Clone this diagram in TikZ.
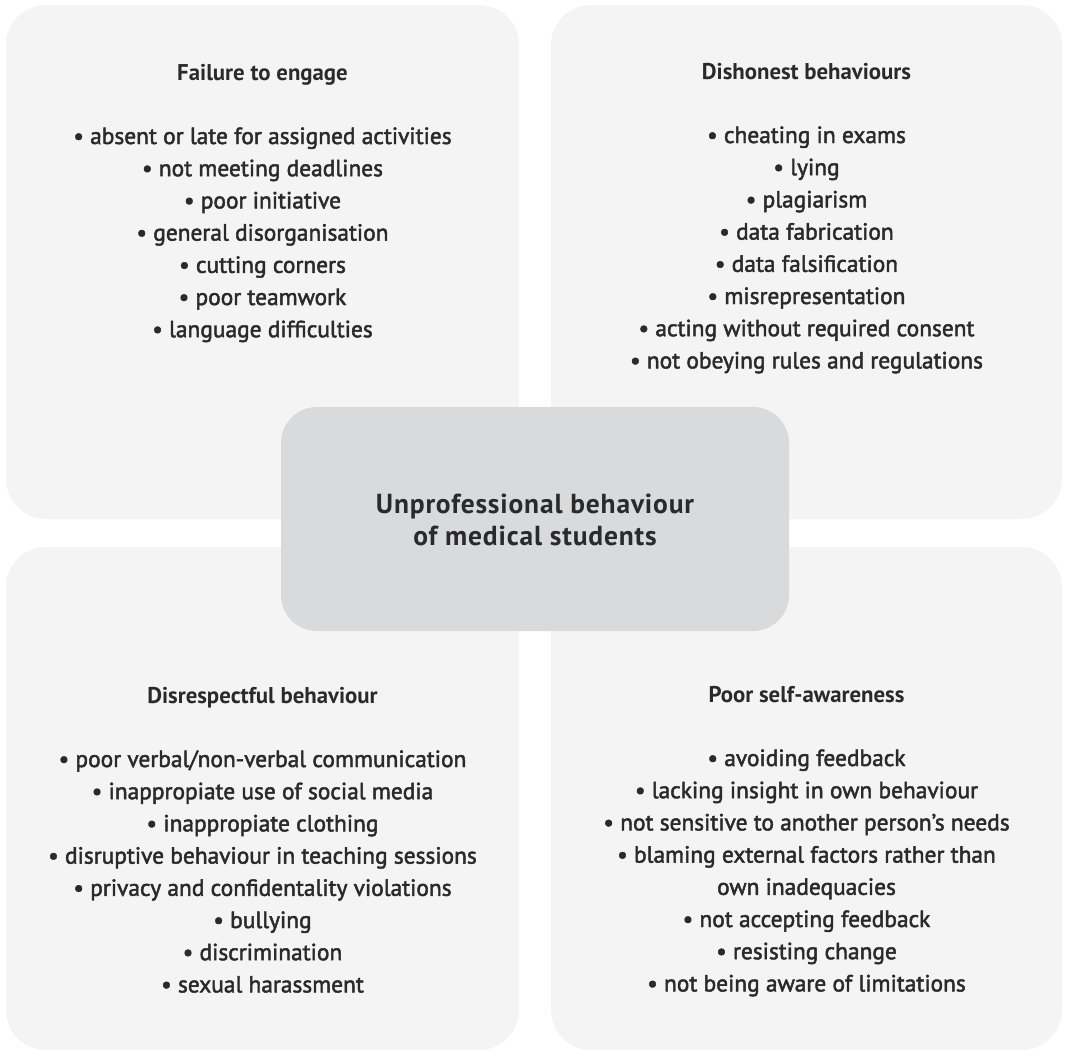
\documentclass[tikz,border=0pt]{standalone}
\usepackage{fontspec}
\setmainfont{PT Sans}
\newfontfamily\itemfont{PT Sans}[FakeBold=2]
\newfontfamily\headfont{PT Sans Bold}
\newfontfamily\hubfont{PT Sans Bold}[LetterSpace=3]
\definecolor{ink}{HTML}{2A2A2B}
\definecolor{panel}{HTML}{F4F4F4}
\definecolor{hub}{HTML}{D9DADC}
\begin{document}
\begin{tikzpicture}[x=1pt,y=-1pt,
  panelbox/.style={fill=panel, draw=none, rounded corners=40pt},
  hubbox/.style={fill=hub, draw=none, rounded corners=36pt},
  head/.style={anchor=base, inner sep=0pt, text=ink, font=\headfont\fontsize{22.8}{27}\selectfont},
  item/.style={anchor=base, inner sep=0pt, text=ink, font=\itemfont\fontsize{23.4}{27}\selectfont},
  hubtext/.style={anchor=base, inner sep=0pt, text=ink, font=\hubfont\fontsize{27.5}{32}\selectfont}]
\useasboundingbox (0,0) rectangle (1065,1055);

% four category panels
\path[panelbox] (6,5) rectangle (519,519);
\path[panelbox] (551,5) rectangle (1062,519);
\path[panelbox] (6,547) rectangle (519,1050);
\path[panelbox] (551,547) rectangle (1062,1050);

% Failure to engage
\node[head] (h1) at (262.5,80) {Failure to engage};
\foreach [count=\i] \t in {{• absent or late for assigned activities},{• not meeting deadlines},{• poor initiative},{• general disorganisation},{• cutting corners},{• poor teamwork},{• language difficulties}}
  \node[item] (a\i) at (262.5,{144+32.2*(\i-1)}) {\t};

% Dishonest behaviours
\node[head] (h2) at (806.5,79) {Dishonest behaviours};
\foreach [count=\i] \t in {{• cheating in exams},{• lying},{• plagiarism},{• data fabrication},{• data falsification},{• misrepresentation},{• acting without required consent},{• not obeying rules and regulations}}
  \node[item] (b\i) at (806.5,{143+32.2*(\i-1)}) {\t};

% Disrespectful behaviour
\node[head] (h3) at (262.5,703) {Disrespectful behaviour};
\foreach [count=\i] \t in {{• poor verbal/non-verbal communication},{• inappropiate use of social media},{• inappropiate clothing},{• disruptive behaviour in teaching sessions},{• privacy and confidentality violations},{• bullying},{• discrimination},{• sexual harassment}}
  \node[item] (c\i) at (262.5,{767+32.2*(\i-1)}) {\t};

% Poor self-awareness
\node[head] (h4) at (806.5,702) {Poor self-awareness};
\foreach [count=\i] \t in {{• avoiding feedback},{• lacking insight in own behaviour},{• not sensitive to another person’s needs},{• blaming external factors rather than},{own inadequacies},{• not accepting feedback},{• resisting change},{• not being aware of limitations}}
  \node[item] (d\i) at (806.5,{766+32.2*(\i-1)}) {\t};

% central hub
\path[hubbox] (281,407) rectangle (789,631);
\node[hubtext] (u1) at (535,513) {Unprofessional behaviour};
\node[hubtext] (u2) at (535,545) {of medical students};
\end{tikzpicture}
\end{document}
